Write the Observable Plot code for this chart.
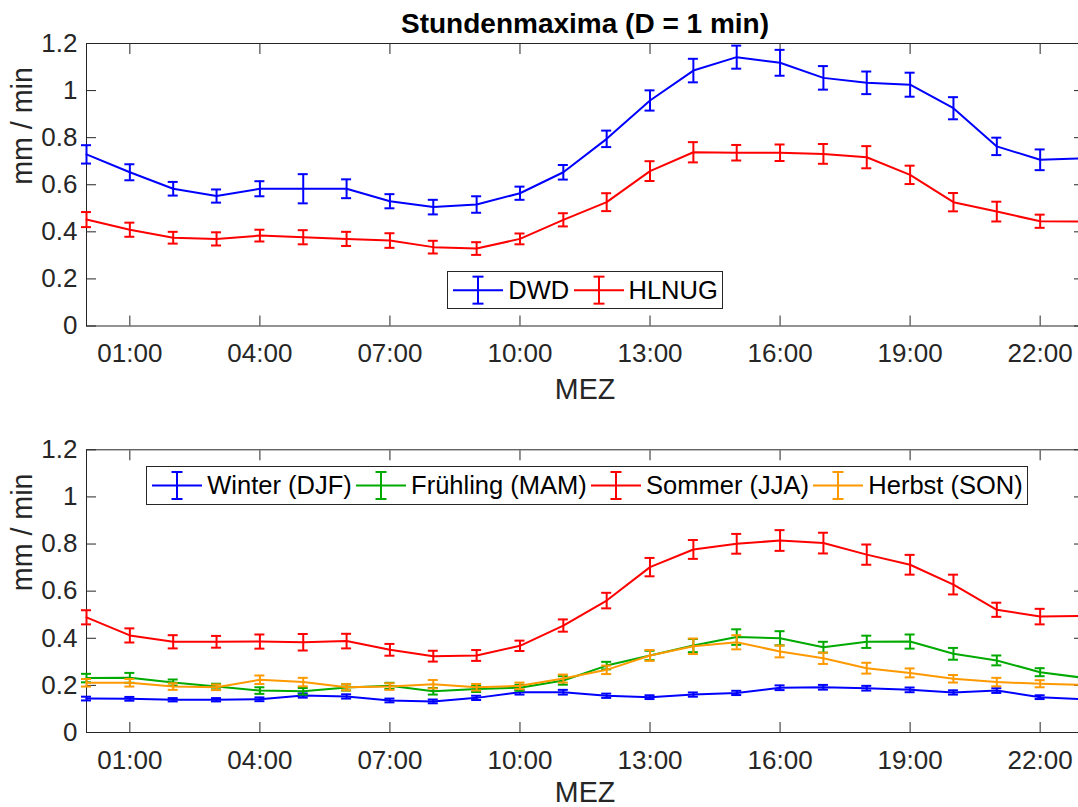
<!DOCTYPE html>
<html><head><meta charset="utf-8">
<script src="https://cdn.jsdelivr.net/npm/d3@7"></script>
<script src="https://cdn.jsdelivr.net/npm/@observablehq/plot@0.6"></script>
<style>
html,body{margin:0;padding:0;background:#fff;overflow:hidden}
#wrap{position:relative;width:1078px;height:807px;overflow:hidden;background:#fff;font-family:"Liberation Sans",Arial,sans-serif}
#wrap svg.panel{position:absolute;left:0}
.legend{position:absolute;display:flex;align-items:center;border:1px solid #262626;background:#fff;box-sizing:border-box;padding:0 4px 0 5px;font-size:25.5px;color:#000;white-space:nowrap}
.legend .item{display:flex;align-items:center;margin-right:4.3px}
.legend .item:last-child{margin-right:0}
.legend .item svg{display:block;margin-right:5px}
</style></head>
<body>
<div id="wrap"></div>
<script>
// ---------- data ----------
const hours = [0,1,2,3,4,5,6,7,8,9,10,11,12,13,14,15,16,17,18,19,20,21,22,23];
const xTicks = [1,4,7,10,13,16,19,22];
const xTickLabels = ["01:00","04:00","07:00","10:00","13:00","16:00","19:00","22:00"];
const yTicks = [0,0.2,0.4,0.6,0.8,1,1.2];
const yTickLabels = ["0","0.2","0.4","0.6","0.8","1","1.2"];

const titleText = "Stundenmaxima (D = 1 min)";
const xLabel = "MEZ";
const yLabel = "mm / min";

// top panel
const dwd    = [0.729,0.653,0.583,0.552,0.583,0.583,0.583,0.530,0.505,0.516,0.564,0.653,0.795,0.958,1.085,1.142,1.118,1.054,1.033,1.025,0.925,0.763,0.706,0.712];
const dwdErr = [0.039,0.034,0.029,0.028,0.032,0.062,0.040,0.030,0.031,0.035,0.028,0.031,0.035,0.043,0.050,0.049,0.055,0.050,0.048,0.051,0.047,0.037,0.044,0.040];
const hlnug    = [0.452,0.409,0.375,0.370,0.384,0.377,0.370,0.363,0.335,0.329,0.370,0.451,0.526,0.658,0.738,0.736,0.736,0.731,0.717,0.642,0.526,0.486,0.445,0.444];
const hlnugErr = [0.032,0.030,0.025,0.028,0.025,0.030,0.030,0.031,0.027,0.027,0.023,0.028,0.038,0.042,0.043,0.033,0.035,0.042,0.047,0.039,0.039,0.042,0.028,0.030];
const topNames = ["DWD","HLNUG"];
const topColors = ["#0000ff","#ff0000"];

// bottom panel (seasons)
const winter    = [0.144,0.143,0.139,0.139,0.141,0.157,0.153,0.136,0.132,0.147,0.171,0.171,0.156,0.150,0.161,0.168,0.190,0.192,0.188,0.181,0.170,0.178,0.150,0.141];
const winterErr = [0.008,0.008,0.007,0.007,0.008,0.009,0.009,0.008,0.008,0.009,0.010,0.010,0.009,0.008,0.009,0.009,0.010,0.010,0.010,0.010,0.009,0.010,0.008,0.008];
const spring    = [0.231,0.232,0.212,0.195,0.178,0.175,0.191,0.198,0.175,0.185,0.190,0.221,0.284,0.327,0.369,0.405,0.400,0.362,0.385,0.386,0.334,0.306,0.256,0.232];
const springErr = [0.018,0.021,0.013,0.012,0.014,0.014,0.013,0.013,0.014,0.013,0.013,0.018,0.016,0.020,0.028,0.033,0.030,0.023,0.026,0.030,0.025,0.021,0.017,0.017];
const summer    = [0.489,0.412,0.385,0.385,0.386,0.383,0.388,0.351,0.324,0.327,0.368,0.454,0.560,0.702,0.777,0.801,0.815,0.804,0.755,0.712,0.628,0.521,0.492,0.495];
const summerErr = [0.030,0.030,0.028,0.025,0.030,0.035,0.031,0.025,0.023,0.023,0.022,0.026,0.033,0.039,0.040,0.042,0.044,0.044,0.043,0.042,0.042,0.030,0.033,0.033];
const autumn    = [0.211,0.211,0.195,0.192,0.224,0.214,0.192,0.195,0.205,0.192,0.198,0.229,0.266,0.327,0.366,0.383,0.344,0.315,0.273,0.253,0.228,0.214,0.207,0.202];
const autumnErr = [0.016,0.016,0.014,0.012,0.018,0.018,0.013,0.014,0.018,0.014,0.014,0.017,0.018,0.023,0.033,0.030,0.025,0.024,0.023,0.019,0.016,0.018,0.015,0.015];
const seasonNames = ["Winter (DJF)","Frühling (MAM)","Sommer (JJA)","Herbst (SON)"];
const seasonColors = ["#0000ff","#00aa00","#ff0000","#ff9900"];

// ---------- helpers ----------
const AX = "#262626";
const FONT = '"Liberation Sans", Arial, sans-serif';

function rows(vals, errs) {
  return hours.map((h, i) => ({h, v: vals[i], lo: vals[i] - errs[i], hi: vals[i] + errs[i]}));
}

function seriesMarks(data, color) {
  const s = {stroke: color, strokeWidth: 2};
  return [
    Plot.line(data, {x: "h", y: "v", ...s}),
    Plot.ruleX(data, {x: "h", y1: "lo", y2: "hi", ...s}),
    Plot.ruleY(data, {y: "lo", x1: "h", x2: "h", insetLeft: -5, insetRight: -5, ...s}),
    Plot.ruleY(data, {y: "hi", x1: "h", x2: "h", insetLeft: -5, insetRight: -5, ...s})
  ];
}

function axesMarks(labelDy) {
  const tk = {tickSize: -10, tickFormat: () => "", label: null, stroke: AX};
  return [
    Plot.frame({stroke: AX, strokeWidth: 1}),
    Plot.axisX(xTicks, {anchor: "bottom", ...tk}),
    Plot.axisX(xTicks, {anchor: "top", ...tk}),
    Plot.axisY(yTicks, {anchor: "left", ...tk}),
    Plot.axisY(yTicks, {anchor: "right", ...tk}),
    Plot.axisX(xTicks, {anchor: "bottom", tickSize: 0, tickPadding: 18, label: null, fontSize: 26, fill: AX,
      tickFormat: d => xTickLabels[xTicks.indexOf(d)]}),
    Plot.axisY(yTicks, {anchor: "left", tickSize: 0, tickPadding: 9, label: null, fontSize: 26, fill: AX,
      tickFormat: d => yTickLabels[yTicks.indexOf(d)]}),
    Plot.text([xLabel], {frameAnchor: "bottom", lineAnchor: "bottom", dy: labelDy, text: d => d, fontSize: 28.6, fill: AX}),
    Plot.text([yLabel], {frameAnchor: "left", dx: -64, rotate: -90, text: d => d, fontSize: 28.6, fill: AX})
  ];
}

function panel({height, marginTop, marginBottom, series, labelDy, extra = []}) {
  const svg = Plot.plot({
    width: 1084, height, marginLeft: 86, marginRight: 1, marginTop, marginBottom,
    style: {fontFamily: FONT, color: AX, background: "#fff", maxWidth: "none", overflow: "visible"},
    x: {type: "linear", domain: [0, 23]},
    y: {type: "linear", domain: [0, 1.2]},
    marks: [
      ...axesMarks(labelDy),
      ...series.flatMap(([data, color]) => seriesMarks(data, color)),
      ...extra
    ]
  });
  svg.classList.add("panel");
  return svg;
}

function legend(names, colors, left, top, height) {
  const div = document.createElement("div");
  div.className = "legend";
  div.style.left = left + "px";
  div.style.top = top + "px";
  div.style.height = height + "px";
  const inner = height - 2;
  const cy = inner / 2;
  names.forEach((n, i) => {
    const it = document.createElement("div");
    it.className = "item";
    const c = colors[i];
    it.innerHTML = `<svg width="50" height="${inner}" viewBox="0 0 50 ${inner}">
      <line x1="0" x2="50" y1="${cy}" y2="${cy}" stroke="${c}" stroke-width="2"/>
      <line x1="25" x2="25" y1="${cy - 13.5}" y2="${cy + 13.5}" stroke="${c}" stroke-width="2"/>
      <line x1="19.5" x2="30.5" y1="${cy - 13.5}" y2="${cy - 13.5}" stroke="${c}" stroke-width="2"/>
      <line x1="19.5" x2="30.5" y1="${cy + 13.5}" y2="${cy + 13.5}" stroke="${c}" stroke-width="2"/>
    </svg><span>${n}</span>`;
    div.appendChild(it);
  });
  return div;
}

// ---------- build ----------
const wrap = document.getElementById("wrap");

const p1 = panel({
  height: 403, marginTop: 43, marginBottom: 77.5, labelDy: 72.5,
  series: [[rows(dwd, dwdErr), topColors[0]], [rows(hlnug, hlnugErr), topColors[1]]],
  extra: [Plot.text([titleText], {frameAnchor: "top", lineAnchor: "bottom", dy: -11, text: d => d,
    fontSize: 28, fontWeight: "bold", fill: "#000"})]
});
p1.style.top = "0px";
wrap.appendChild(p1);

const p2 = panel({
  height: 404, marginTop: 46.3, marginBottom: 75, labelDy: 69,
  series: [
    [rows(winter, winterErr), seasonColors[0]],
    [rows(spring, springErr), seasonColors[1]],
    [rows(summer, summerErr), seasonColors[2]],
    [rows(autumn, autumnErr), seasonColors[3]]
  ]
});
p2.style.top = "403px";
wrap.appendChild(p2);

wrap.appendChild(legend(topNames, topColors, 447.3, 271, 38.3));
wrap.appendChild(legend(seasonNames, seasonColors, 146.3, 466, 39));
</script>
</body></html>
